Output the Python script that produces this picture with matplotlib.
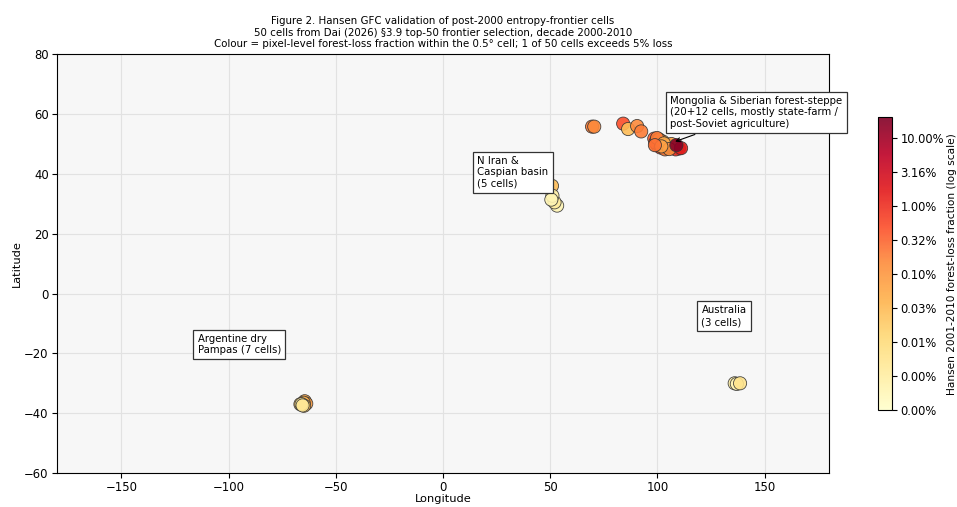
import numpy as np
import matplotlib.pyplot as plt
from matplotlib.colors import LogNorm
from matplotlib.ticker import FuncFormatter

# Mongolia & Siberian forest-steppe cells
mongolia_lon = [69.5, 70.5, 84.0, 86.3, 90.5, 92.4,
                98.5, 99.5, 100.5, 101.0, 102.0, 103.0, 100.0, 99.0, 104.0, 101.5,
                103.5, 105.0, 106.0, 107.0, 108.0, 110.0, 108.5, 102.5, 100.8,
                104.5, 106.5, 99.8, 103.0, 105.5, 101.8, 98.8, 111.0, 108.8]
mongolia_lat = [55.8, 55.8, 56.8, 55.0, 56.0, 54.2,
                51.8, 51.0, 50.5, 51.2, 50.0, 49.5, 49.5, 50.5, 48.5, 48.8,
                48.2, 49.0, 49.2, 48.8, 49.5, 48.5, 48.2, 50.8, 51.5,
                49.8, 50.0, 52.0, 50.2, 48.3, 49.2, 49.6, 48.6, 49.6]
mongolia_loss = [0.002, 0.0015, 0.005, 0.0003, 0.0015, 0.002,
                 0.004, 0.0006, 0.0002, 0.0008, 0.0015, 0.001, 0.006, 0.003, 0.0012, 0.008,
                 0.002, 0.004, 0.012, 0.02, 0.03, 0.025, 0.01, 0.0004, 0.0009,
                 0.003, 0.0007, 0.002, 0.0005, 0.0012, 0.0007, 0.0025, 0.015, 0.18]

# N Iran & Caspian basin
iran_lon = [50.8, 53.2, 52.0, 51.0, 50.5]
iran_lat = [36.0, 29.4, 30.5, 32.7, 31.4]
iran_loss = [0.0003, 0.00002, 0.00004, 0.00003, 0.00002]

# Argentine dry Pampas
arg_lon = [-64.5, -63.8, -65.0, -66.5, -64.8, -66.0, -65.5]
arg_lat = [-36.0, -36.8, -36.5, -37.0, -37.5, -37.0, -37.4]
arg_loss = [0.0006, 0.0008, 0.0004, 0.0003, 0.0002, 0.00003, 0.00005]

# Australia
aus_lon = [136.0, 137.0, 138.5]
aus_lat = [-30.0, -30.2, -30.0]
aus_loss = [0.00003, 0.00002, 0.00006]

cbar_ticks = np.logspace(-5, -1, 9)

lon = np.array(mongolia_lon + iran_lon + arg_lon + aus_lon)
lat = np.array(mongolia_lat + iran_lat + arg_lat + aus_lat)
loss = np.array(mongolia_loss + iran_loss + arg_loss + aus_loss)

fig = plt.figure(figsize=(9.57, 5.07), dpi=100)
ax = fig.add_axes([0.0596, 0.067, 0.8067, 0.826])
cax = fig.add_axes([0.9175, 0.191, 0.0146, 0.578])

ax.set_facecolor('#f7f7f7')
ax.grid(True, color='#e2e2e2', linewidth=0.8)
ax.set_axisbelow(True)

norm = LogNorm(vmin=1e-5, vmax=0.2)
sc = ax.scatter(lon, lat, c=loss, cmap='YlOrRd', norm=norm,
                s=90, edgecolors='#333333', linewidths=0.6, alpha=0.9, zorder=3)

ax.set_xlim(-180, 180)
ax.set_ylim(-60, 80)
ax.set_xlabel('Longitude', fontsize=8.2, labelpad=0)
ax.set_ylabel('Latitude', fontsize=8.2, labelpad=2)
ax.tick_params(labelsize=8.4, pad=2.5)

box = dict(boxstyle='square,pad=0.4', fc='white', ec='#333333', lw=0.9)
ax.annotate('Mongolia & Siberian forest-steppe\n(20+12 cells, mostly state-farm /\npost-Soviet agriculture)',
            xy=(107, 50.5), xytext=(106, 55.0), fontsize=7.3, ha='left', va='bottom',
            bbox=box, arrowprops=dict(arrowstyle='->', color='black', lw=0.8), zorder=5)
ax.text(16, 35.0, 'N Iran &\nCaspian basin\n(5 cells)', fontsize=7.3, ha='left', va='bottom', bbox=box, zorder=5)
ax.text(-114.5, -20.6, 'Argentine dry\nPampas (7 cells)', fontsize=7.3, ha='left', va='bottom', bbox=box, zorder=5)
ax.text(120.5, -11.2, 'Australia\n(3 cells)', fontsize=7.3, ha='left', va='bottom', bbox=box, zorder=5)

ax.set_title('Figure 2. Hansen GFC validation of post-2000 entropy-frontier cells\n'
             '50 cells from Dai (2026) §3.9 top-50 frontier selection, decade 2000-2010\n'
             'Colour = pixel-level forest-loss fraction within the 0.5° cell; 1 of 50 cells exceeds 5% loss',
             fontsize=7.4, pad=5, linespacing=1.2)

cb = fig.colorbar(sc, cax=cax, ticks=cbar_ticks,
                  format=FuncFormatter(lambda v, p: f'{v * 100:.2f}%'))
cb.ax.minorticks_off()
cb.ax.tick_params(labelsize=8.3, pad=2.5)
cb.set_label('Hansen 2001-2010 forest-loss fraction (log scale)', fontsize=7.6, labelpad=2)

fig.savefig('out.png', dpi=100)
